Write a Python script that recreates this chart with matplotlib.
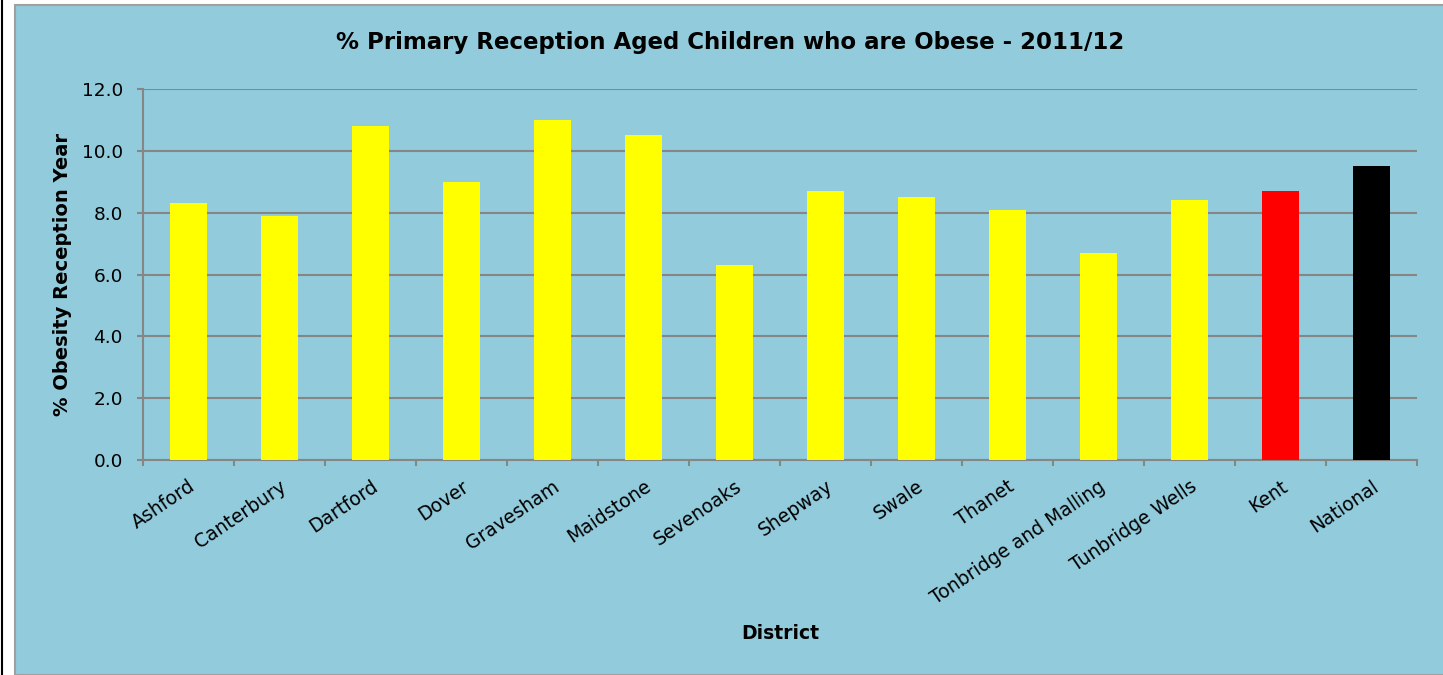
import matplotlib.pyplot as plt
from matplotlib.patches import Rectangle
from matplotlib.lines import Line2D
import numpy as np

# data
districts = ['Ashford', 'Canterbury', 'Dartford', 'Dover', 'Gravesham', 'Maidstone',
             'Sevenoaks', 'Shepway', 'Swale', 'Thanet', 'Tonbridge and Malling',
             'Tunbridge Wells', 'Kent', 'National']
obesity = [8.3, 7.9, 10.8, 9.0, 11.0, 10.5, 6.3, 8.7, 8.5, 8.1, 6.7, 8.4, 8.7, 9.5]
bar_colors = ['#FFFF00'] * 12 + ['#FF0000', '#000000']

bg = '#92CBDC'
grid_col = '#868686'

W, H = 1443, 675
fig = plt.figure(figsize=(W / 100, H / 100), dpi=100, facecolor='white')

# chart area background with border, plus the black line at far left
fig.patches.append(Rectangle((15 / W, 0), 1, 1 - 5 / H, transform=fig.transFigure,
                             facecolor=bg, edgecolor='#A0A0A0', linewidth=1.5, zorder=-10))
fig.lines.append(Line2D([1.5 / W, 1.5 / W], [0, 1], transform=fig.transFigure,
                        color='black', linewidth=1.5, zorder=-10))

ax = fig.add_axes([143 / W, 1 - 460 / H, (1417 - 143) / W, (460 - 89) / H])
ax.set_facecolor(bg)

x = np.arange(len(districts))
ax.bar(x, obesity, width=0.41, color=bar_colors, zorder=3)

ax.set_xlim(-0.5, len(districts) - 0.5)
ax.set_ylim(0, 12)
ax.set_yticks(np.arange(0, 12.1, 2))
ax.set_yticklabels(['%.1f' % v for v in np.arange(0, 12.1, 2)], fontsize=13.3)
ax.yaxis.grid(True, color=grid_col, linewidth=1.5, zorder=1)
ax.set_axisbelow(True)

ax.set_xticks(x)
ax.set_xticklabels(districts, rotation=34, ha='right', rotation_mode='anchor', fontsize=13.5)
ax.set_xticks(np.arange(-0.5, len(districts), 1), minor=True)
ax.tick_params(axis='x', which='major', length=0, pad=12)
ax.tick_params(axis='x', which='minor', length=4.5, color=grid_col, width=1.5)
ax.tick_params(axis='y', length=4.5, color=grid_col, width=1.5, pad=10)

for s in ['top', 'right']:
    ax.spines[s].set_visible(False)
for s in ['left', 'bottom']:
    ax.spines[s].set_color(grid_col)
    ax.spines[s].set_linewidth(1.5)

fig.text(730 / W, 1 - 42 / H, '% Primary Reception Aged Children who are Obese - 2011/12',
         fontsize=16.5, fontweight='bold', ha='center', va='center')
ax.set_ylabel('% Obesity Reception Year', fontsize=14, fontweight='bold', labelpad=7)
ax.set_xlabel('District', fontsize=13.5, fontweight='bold', labelpad=12)

fig.savefig('out.png', dpi=100, facecolor='white')
